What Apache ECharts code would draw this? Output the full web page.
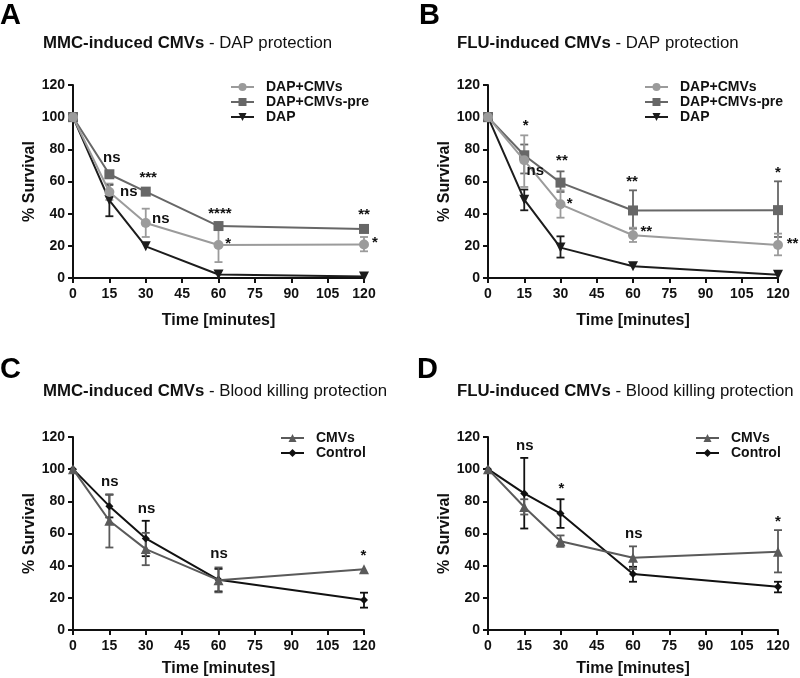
<!DOCTYPE html>
<html>
<head>
<meta charset="utf-8">
<script src="https://cdn.jsdelivr.net/npm/echarts@6/dist/echarts.min.js"></script>
<style>
html,body{margin:0;padding:0;background:#fff;}
#c{width:800px;height:678px;}
</style>
</head>
<body>
<div id="c"></div>
<script>
// ---------- DATA ----------
const times = [0, 15, 30, 60, 120];
const xTickValues = [0, 15, 30, 45, 60, 75, 90, 105, 120];
const yTickValues = [0, 20, 40, 60, 80, 100, 120];

// Panel A: MMC-induced CMVs - DAP protection
const aDapCmvs    = [100, 53.5, 34.2, 20.5, 20.8];
const aDapCmvsPre = [100, 64.5, 53.7, 32.3, 30.5];
const aDap        = [100, 48.3, 19.7, 2.2, 1.0];
const aDapCmvsErr    = [null, [48.5, 58.7], [25.5, 43.1], [9.9, 31.7], [16.6, 25.5]];
const aDapCmvsPreErr = [null, null, null, null, null];
const aDapErr        = [null, [38.4, 58.0], null, null, null];
const aNotes = [[16, 75, 'ns'], [23, 53.5, 'ns'], [31, 62.5, '***'], [36.2, 37, 'ns'], [60.6, 40, '****'], [64, 21.5, '*'], [120, 39, '**'], [124.5, 22, '*']];

// Panel B: FLU-induced CMVs - DAP protection
const bDapCmvs    = [100, 73.2, 45.8, 26.6, 20.5];
const bDapCmvsPre = [100, 76.3, 59.3, 42.0, 42.2];
const bDap        = [100, 48.7, 18.9, 7.3, 2.0];
const bDapCmvsErr    = [null, [56.6, 88.7], [37.5, 54.5], [22.4, 31.3], [14.1, 27.6]];
const bDapCmvsPreErr = [null, [65.0, 83.0], [53.5, 66.3], [30.7, 54.5], [25.5, 60.1]];
const bDapErr        = [null, [42.1, 55.0], [12.7, 25.9], null, null];
const bNotes = [[15.6, 94.5, '*'], [19.6, 66.9, 'ns'], [30.6, 73, '**'], [33.8, 46, '*'], [59.6, 60, '**'], [65.5, 28.5, '**'], [120, 65.5, '*'], [126, 21, '**']];

// Panel C: MMC-induced CMVs - Blood killing protection
const cCmvs    = [100, 67.9, 50.3, 31.0, 37.7];
const cControl = [100, 77.0, 56.9, 31.2, 18.6];
const cCmvsErr    = [null, [51.3, 84.2], [40.3, 60.4], [23.4, 38.9], null];
const cControlErr = [null, [70.0, 84.2], [45.9, 67.9], [24.0, 38.0], [13.9, 23.2]];
const cNotes = [[15.2, 92, 'ns'], [30.3, 75.5, 'ns'], [60.2, 47.6, 'ns'], [119.8, 46, '*']];

// Panel D: FLU-induced CMVs - Blood killing protection
const dCmvs    = [100, 76.5, 55.2, 44.9, 48.6];
const dControl = [100, 84.9, 72.4, 34.8, 26.9];
const dCmvsErr    = [null, [71.8, 81.3], [51.7, 58.8], [37.9, 52.0], [35.8, 62.1]];
const dControlErr = [null, [63.1, 107.0], [63.5, 81.3], [30.0, 39.3], [23.4, 30.0]];
const dNotes = [[15.2, 114.6, 'ns'], [30.4, 88, '*'], [60.3, 60, 'ns'], [120, 67.5, '*']];

const panelLetters = ['A', 'B', 'C', 'D'];
const titlesBold = ['MMC-induced CMVs', 'FLU-induced CMVs', 'MMC-induced CMVs', 'FLU-induced CMVs'];
const titlesRest = [' - DAP protection', ' - DAP protection', ' - Blood killing protection', ' - Blood killing protection'];
const xName = 'Time [minutes]';
const yName = '% Survival';

// ---------- STYLE / LAYOUT ----------
const FONT = '"Liberation Sans", Arial, Helvetica, sans-serif';
const C_LIGHT = '#9b9b9b', C_MID = '#676767', C_DARK = '#1c1c1c';
const C_CMV = '#5a5a5a', C_CTRL = '#111111';

const grids = [
  {left: 73, top: 85, width: 291, height: 193},
  {left: 488, top: 85, width: 290, height: 193},
  {left: 73, top: 437, width: 291, height: 193},
  {left: 488, top: 437, width: 290, height: 193}
];
const xNameGaps = [35, 35, 31, 31];

function pairs(vals) { return times.map((t, i) => [t, vals[i]]); }
function errPairs(errs) {
  const out = [];
  errs.forEach((e, i) => { if (e) out.push([times[i], e[0], e[1]]); });
  return out;
}

function axisX(gi) {
  return {
    type: 'value', gridIndex: gi, min: 0, max: 120, interval: 15,
    name: xName, nameLocation: 'middle', nameGap: xNameGaps[gi],
    nameTextStyle: {fontFamily: FONT, fontSize: 16, fontWeight: 'bold', color: '#111'},
    axisLine: {show: true, onZero: false, lineStyle: {color: '#111', width: 2}},
    axisTick: {show: true, length: 5, lineStyle: {color: '#111', width: 2}},
    axisLabel: {fontFamily: FONT, fontSize: 14, fontWeight: 'bold', color: '#111', margin: 9,
      customValues: xTickValues},
    splitLine: {show: false}
  };
}
function axisY(gi) {
  return {
    type: 'value', gridIndex: gi, min: 0, max: 120, interval: 20,
    name: yName, nameLocation: 'middle', nameGap: 34,
    nameTextStyle: {fontFamily: FONT, fontSize: 16, fontWeight: 'bold', color: '#111'},
    axisLine: {show: true, onZero: false, lineStyle: {color: '#111', width: 2}},
    axisTick: {show: true, length: 5, lineStyle: {color: '#111', width: 2}},
    axisLabel: {fontFamily: FONT, fontSize: 14, fontWeight: 'bold', color: '#111', margin: 8},
    splitLine: {show: false}
  };
}

function lineSeries(name, gi, vals, color, symbol, size, z) {
  return {
    name: name, type: 'line', xAxisIndex: gi, yAxisIndex: gi,
    data: pairs(vals), symbol: symbol, symbolSize: size, showSymbol: true,
    lineStyle: {color: color, width: 2}, itemStyle: {color: color, borderWidth: 0},
    emphasis: {disabled: true}, z: z, animation: false
  };
}
function errSeries(gi, errs, color, z) {
  return {
    type: 'custom', xAxisIndex: gi, yAxisIndex: gi, data: errPairs(errs), z: z, animation: false,
    renderItem: function (params, api) {
      const x = api.value(0);
      const lo = api.coord([x, api.value(1)]);
      const hi = api.coord([x, api.value(2)]);
      const hw = 4;
      const st = {stroke: color, lineWidth: 1.8, fill: null};
      return {type: 'group', children: [
        {type: 'line', shape: {x1: lo[0], y1: lo[1], x2: hi[0], y2: hi[1]}, style: st},
        {type: 'line', shape: {x1: lo[0] - hw, y1: lo[1], x2: lo[0] + hw, y2: lo[1]}, style: st},
        {type: 'line', shape: {x1: hi[0] - hw, y1: hi[1], x2: hi[0] + hw, y2: hi[1]}, style: st}
      ]};
    }
  };
}
function noteSeries(gi, notes) {
  return {
    type: 'custom', xAxisIndex: gi, yAxisIndex: gi, data: notes, z: 20, animation: false, clip: false,
    renderItem: function (params, api) {
      const p = api.coord([api.value(0), api.value(1)]);
      return {type: 'text', x: p[0], y: p[1], style: {
        text: notes[params.dataIndex][2], align: 'center', verticalAlign: 'middle',
        font: 'bold 15px ' + FONT, fill: '#111'
      }};
    }
  };
}

const series = [
  // A
  errSeries(0, aDapErr, C_DARK, 3), errSeries(0, aDapCmvsPreErr, C_MID, 3), errSeries(0, aDapCmvsErr, C_LIGHT, 3),
  lineSeries('DAP', 0, aDap, C_DARK, 'triangle', 10, 4),
  lineSeries('DAP+CMVs-pre', 0, aDapCmvsPre, C_MID, 'rect', 10, 5),
  lineSeries('DAP+CMVs', 0, aDapCmvs, C_LIGHT, 'circle', 10, 6),
  noteSeries(0, aNotes),
  // B
  errSeries(1, bDapErr, C_DARK, 3), errSeries(1, bDapCmvsPreErr, C_MID, 3), errSeries(1, bDapCmvsErr, C_LIGHT, 3),
  lineSeries('DAP', 1, bDap, C_DARK, 'triangle', 10, 4),
  lineSeries('DAP+CMVs-pre', 1, bDapCmvsPre, C_MID, 'rect', 10, 5),
  lineSeries('DAP+CMVs', 1, bDapCmvs, C_LIGHT, 'circle', 10, 6),
  noteSeries(1, bNotes),
  // C
  errSeries(2, cControlErr, C_CTRL, 3), errSeries(2, cCmvsErr, C_CMV, 3),
  lineSeries('Control', 2, cControl, C_CTRL, 'diamond', 8, 4),
  lineSeries('CMVs', 2, cCmvs, C_CMV, 'triangle', 10, 5),
  noteSeries(2, cNotes),
  // D
  errSeries(3, dControlErr, C_CTRL, 3), errSeries(3, dCmvsErr, C_CMV, 3),
  lineSeries('Control', 3, dControl, C_CTRL, 'diamond', 8, 4),
  lineSeries('CMVs', 3, dCmvs, C_CMV, 'triangle', 10, 5),
  noteSeries(3, dNotes)
];
// triangle for DAP points down
series.forEach(s => { if (s.name === 'DAP') s.symbolRotate = 180; });

function legend(left, top, names) {
  return {
    orient: 'vertical', left: left, top: top, itemWidth: 23, itemHeight: 10, itemGap: 1, padding: 0,
    selectedMode: false, data: names,
    textStyle: {fontFamily: FONT, fontSize: 14, fontWeight: 'bold', color: '#111', padding: [0, 0, 0, 7]}
  };
}

const titles = [];
const letterPos = [[0, 1], [419, 1], [0, 355], [417, 355]];
const titlePos = [[43, 35], [457, 35], [43, 383], [457, 383]];
for (let i = 0; i < 4; i++) {
  titles.push({text: panelLetters[i], left: letterPos[i][0], top: letterPos[i][1], padding: 0,
    textStyle: {fontFamily: FONT, fontSize: 29, fontWeight: 'bold', color: '#000'}});
  titles.push({text: '{b|' + titlesBold[i] + '}{n|' + titlesRest[i] + '}', left: titlePos[i][0], top: titlePos[i][1], padding: 0,
    textStyle: {rich: {
      b: {fontFamily: FONT, fontSize: 16.8, fontWeight: 'bold', color: '#111'},
      n: {fontFamily: FONT, fontSize: 16.8, fontWeight: 'normal', color: '#111'}
    }}});
}

const option = {
  backgroundColor: '#fff',
  animation: false,
  title: titles,
  grid: grids.map(g => Object.assign({outerBoundsMode: 'none', containLabel: false}, g)),
  xAxis: [0, 1, 2, 3].map(axisX),
  yAxis: [0, 1, 2, 3].map(axisY),
  legend: [
    legend(230, 80, ['DAP+CMVs', 'DAP+CMVs-pre', 'DAP']),
    legend(644, 80, ['DAP+CMVs', 'DAP+CMVs-pre', 'DAP']),
    legend(280, 431, ['CMVs', 'Control']),
    legend(695, 431, ['CMVs', 'Control'])
  ],
  series: series
};

const chart = echarts.init(document.getElementById('c'), null, {renderer: 'canvas'});
chart.setOption(option);
</script>
</body>
</html>
